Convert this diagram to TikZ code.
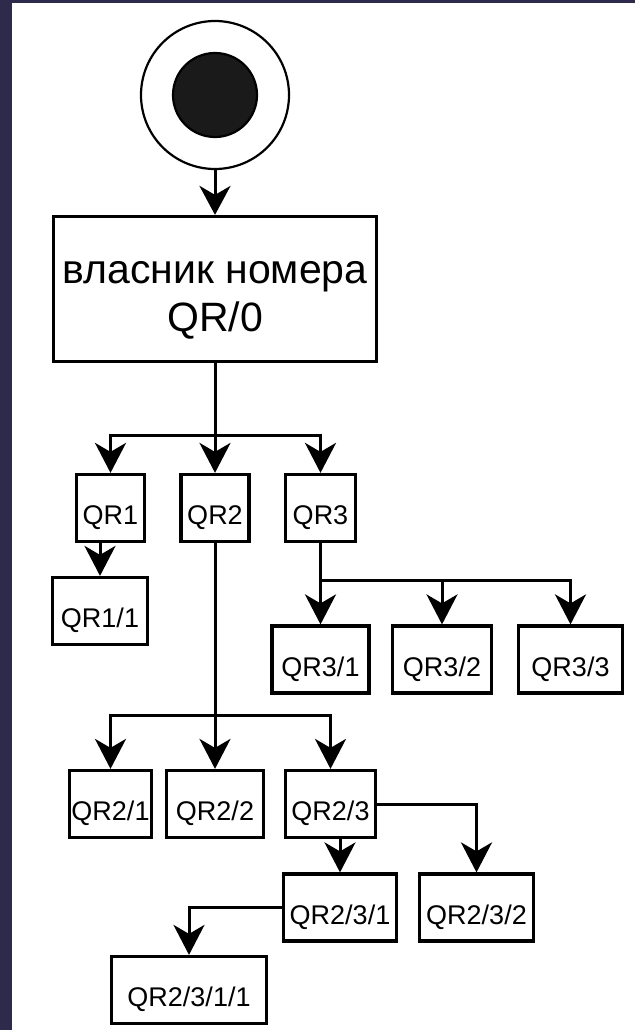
\documentclass[tikz,border=0pt]{standalone}
\usepackage{fontspec}
\setmainfont{Liberation Sans}
\usetikzlibrary{arrows.meta}
\definecolor{framecol}{HTML}{2E2A4B}
\definecolor{dotcol}{HTML}{1A1A1A}
\begin{document}
\begin{tikzpicture}[x=1pt,y=-1pt,
  box/.style={draw, line width=3.2pt, inner sep=0pt, font=\fontsize{27}{32}\selectfont, text height=34pt, text depth=0.6pt, minimum height=67pt},
  conn/.style={line width=3pt, -{Stealth[length=30pt,width=31pt,inset=9pt]}}]
\fill[white] (0,0) rectangle (635,1030);
\useasboundingbox (0,0) rectangle (635,1030);
\fill[framecol] (0,0) rectangle (12,1030);
\fill[framecol] (0,0) rectangle (635,3);

% start symbol
\node[circle, draw, line width=2.2pt, minimum size=148pt, inner sep=0pt] (start) at (215,95) {};
\node[circle, draw, fill=dotcol, line width=2.2pt, minimum size=84pt, inner sep=0pt] (dot) at (215,95) {};

% main box
\node[draw, line width=3.2pt, minimum width=323pt, minimum height=145pt, inner sep=0pt,
      align=center, font=\fontsize{41}{48}\selectfont, text height=86pt, text depth=2pt]
      (main) at (215,289) {власник номера\\QR/0};

% level 1
\node[box, minimum width=68pt] (q1) at (110.5,508) {QR1};
\node[box, minimum width=68pt] (q2) at (215,508) {QR2};
\node[box, minimum width=70pt] (q3) at (320.5,508) {QR3};

\node[box, minimum width=95pt] (q11) at (100,611) {QR1/1};

\node[box, minimum width=97pt] (q31) at (320.5,659.5) {QR3/1};
\node[box, minimum width=99pt] (q32) at (442,659.5) {QR3/2};
\node[box, minimum width=104pt] (q33) at (570.5,659.5) {QR3/3};

\node[box, minimum width=82pt] (q21) at (110.5,804) {QR2/1};
\node[box, minimum width=97pt] (q22) at (215,804) {QR2/2};
\node[box, minimum width=90pt] (q23) at (330.5,804) {QR2/3};

\node[box, minimum width=113pt] (q231) at (340,907.5) {QR2/3/1};
\node[box, minimum width=114pt] (q232) at (476.5,907.5) {QR2/3/2};

\node[box, minimum width=155pt] (q2311) at (189,990) {QR2/3/1/1};

% connectors
\draw[conn, -{Stealth[length=29pt,width=31pt,inset=9pt]}] (start) -- (main);

\coordinate (b0) at (215,435);
\draw[conn] (main) -- (q2);
\draw[conn] (b0) -| (q1.north);
\draw[conn] (b0) -| (q3.north);

\draw[conn] (q11.north |- q1.south) -- (q11.north);

\coordinate (b3) at (320.5,580);
\draw[conn] (q3) -- (q31);
\draw[conn] (b3) -| (q32.north);
\draw[conn] (b3) -| (q33.north);

\coordinate (b2) at (215,715);
\draw[conn] (q2) -- (q22);
\draw[conn] (b2) -| (q21.north);
\draw[conn] (b2) -| (q23.north);

\draw[conn] (q231.north |- q23.south) -- (q231.north);
\draw[conn] (q23.east) -| (q232.north);
\draw[conn] (q231.west) -| (q2311.north);
\end{tikzpicture}
\end{document}
